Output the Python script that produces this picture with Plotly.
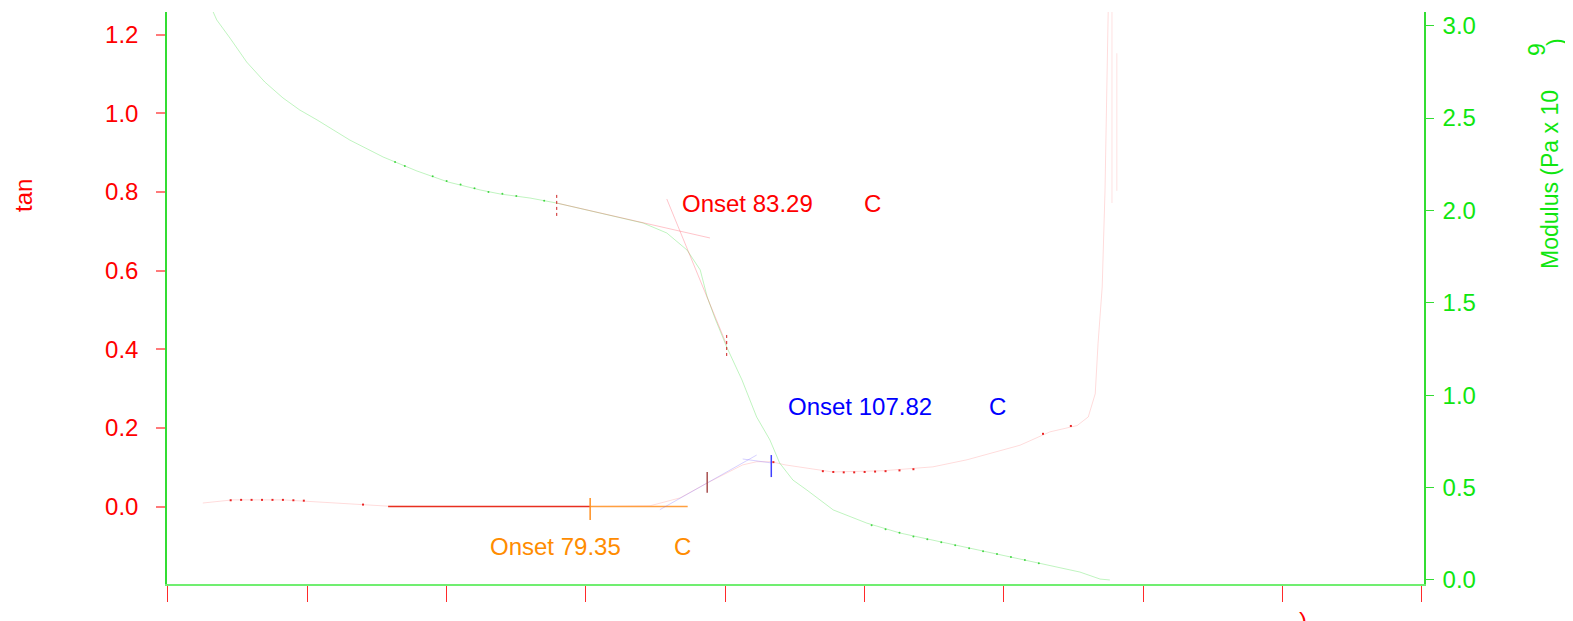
import plotly.graph_objects as go

# ---------------- data ----------------
# modulus (Pa x 10^9) vs temperature
mod_T = [26.3, 27.0, 28.9, 31.3, 33.9, 36.5, 38.9, 41.4, 46.1, 50.9, 55.7, 60.2, 64.8, 67.7,
         72.0, 75.8, 82.0, 88.2, 91.6, 94.5, 96.4, 97.4, 98.5, 100.2, 102.4, 104.5, 106.4,
         107.8, 109.7, 111.7, 115.5, 120.3, 125.1, 129.8, 134.7, 139.4, 146.3, 150.9, 153.8, 155.2]
mod_M = [3.09, 3.031, 2.933, 2.803, 2.695, 2.609, 2.544, 2.490, 2.381, 2.289, 2.214, 2.154,
         2.111, 2.089, 2.067, 2.040, 1.986, 1.932, 1.878, 1.786, 1.678, 1.532, 1.418, 1.261,
         1.082, 0.882, 0.758, 0.633, 0.541, 0.487, 0.379, 0.308, 0.254, 0.216, 0.173, 0.138,
         0.080, 0.043, 0.005, 0.0]
# darker sampled points on the modulus trace
mod_dot_T = [52.6, 54.0, 58.0, 60.0, 62.0, 64.0, 66.0, 68.0, 70.0, 74.0,
             121.0, 123.0, 125.0, 127.0, 129.0, 131.0, 133.0, 135.0, 137.0, 139.0, 141.0, 143.0, 145.0]
mod_dot_M = [2.262, 2.240, 2.185, 2.160, 2.140, 2.120, 2.100, 2.090, 2.078, 2.052,
             0.296, 0.275, 0.255, 0.236, 0.220, 0.204, 0.188, 0.172, 0.156, 0.140, 0.125, 0.108, 0.090]

# tan delta vs temperature
tan_T = [25.0, 29.3, 36.5, 41.4, 48.6, 51.6, 60.0, 70.0, 80.0, 89.2, 93.5, 97.4, 99.9, 102.5,
         104.5, 106.6, 108.6, 110.7, 115.4, 122.6, 129.8, 134.7, 139.4, 142.3, 146.6, 150.5,
         152.1, 153.1, 153.5, 154.1, 154.5, 154.8, 155.0]
tan_D = [0.009, 0.017, 0.017, 0.012, 0.004, 0.001, 0.0, 0.0, 0.0, 0.002, 0.022, 0.060, 0.083,
         0.106, 0.114, 0.114, 0.106, 0.101, 0.088, 0.091, 0.101, 0.119, 0.142, 0.156, 0.190,
         0.206, 0.228, 0.287, 0.414, 0.559, 0.803, 1.065, 1.30]
tan_spike_T = [155.5, 155.5, None, 156.2, 156.2]
tan_spike_D = [1.30, 0.772, None, 1.153, 0.803]
tan_dot_T = [29.0, 30.5, 32.0, 33.5, 35.0, 36.5, 38.0, 39.5, 48.0, 106.9,
             114.0, 115.5, 117.0, 118.5, 120.0, 121.5, 123.0, 125.0, 127.0, 145.6, 149.6]
tan_dot_D = [0.016, 0.017, 0.017, 0.017, 0.017, 0.017, 0.016, 0.015, 0.005, 0.113,
             0.090, 0.088, 0.087, 0.087, 0.088, 0.089, 0.090, 0.092, 0.095, 0.185, 0.205]

# onset 79.35 (tan delta baseline + marker)
on1_base_T = [51.6, 80.6]
on1_ext_T = [80.6, 94.6]
on1_base_D = [0.0, 0.0]
on1_tick_T = [80.6, 80.6]
on1_tick_D = [0.022, -0.034]
# onset 83.29 (modulus tangents)
on2_l1_T = [75.8, 97.8]
on2_l1_M = [2.040, 1.851]
on2_l2_T = [91.6, 100.2]
on2_l2_M = [2.062, 1.272]
on2_tickA_T = [75.8, 75.8]
on2_tickA_M = [2.084, 1.965]
on2_tickB_T = [100.2, 100.2]
on2_tickB_M = [1.326, 1.201]
# onset 107.82 (tan delta tangents)
on3_l1_T = [90.6, 104.5]
on3_l1_D = [-0.008, 0.131]
on3_l2_T = [102.5, 106.6]
on3_l2_D = [0.121, 0.111]
on3_tick_T = [106.6, 106.6]
on3_tick_D = [0.131, 0.075]
brown_tick_T = [97.4, 97.4]
brown_tick_D = [0.088, 0.035]

x_ticks = [20, 40, 60, 80, 100, 120, 140, 160, 180, 200]
tan_ticks = [0.0, 0.2, 0.4, 0.6, 0.8, 1.0, 1.2]
mod_ticks = [0.0, 0.5, 1.0, 1.5, 2.0, 2.5, 3.0]

labels = [  # text, x, y, axis, colour
    ("Onset 83.29", 93.5, 2.035, "y2", "#ff0000"),
    ("C", 119.6, 2.035, "y2", "#ff0000"),
    ("Onset 107.82", 108.7, 0.254, "y", "#0000ff"),
    ("C", 137.6, 0.254, "y", "#0000ff"),
    ("Onset 79.35", 65.9, -0.102, "y", "#ff8c00"),
    ("C", 92.3, -0.102, "y", "#ff8c00"),
]

FONT = "Liberation Sans, Arial, Helvetica, sans-serif"
RED = "#ff0000"
GREEN = "#10e610"

fig = go.Figure()

def seg(x, y, color, width=1, dash="solid", yaxis="y"):
    fig.add_trace(go.Scatter(x=x, y=y, mode="lines", yaxis=yaxis, hoverinfo="skip",
                             line=dict(color=color, width=width, dash=dash), showlegend=False))

# modulus curve
seg(mod_T, mod_M, "rgba(0,210,0,0.25)", 1, yaxis="y2")
fig.add_trace(go.Scatter(x=mod_dot_T, y=mod_dot_M, mode="markers", yaxis="y2", hoverinfo="skip",
                         marker=dict(color="rgba(0,200,0,0.7)", size=2), showlegend=False))
# tan delta curve
seg(tan_T, tan_D, "rgba(255,0,0,0.14)", 1)
seg(tan_spike_T, tan_spike_D, "rgba(255,0,0,0.12)", 1)
fig.add_trace(go.Scatter(x=tan_dot_T, y=tan_dot_D, mode="markers", hoverinfo="skip",
                         marker=dict(color="rgba(230,0,0,0.85)", size=2, symbol="square"),
                         showlegend=False))

# onset 79.35
seg(on1_base_T, on1_base_D, "#e83020", 1.5)
seg(on1_ext_T, on1_base_D, "#ffa040", 1.5)
seg(on1_tick_T, on1_tick_D, "#ff9020", 1.5)
# onset 83.29
seg(on2_l1_T, on2_l1_M, "rgba(255,60,80,0.3)", 1, yaxis="y2")
seg(on2_l2_T, on2_l2_M, "rgba(255,60,80,0.3)", 1, yaxis="y2")
seg(on2_tickA_T, on2_tickA_M, "#cc2020", 1, "dot", yaxis="y2")
seg(on2_tickB_T, on2_tickB_M, "#cc2020", 1, "dot", yaxis="y2")
# onset 107.82
seg(on3_l1_T, on3_l1_D, "rgba(120,100,255,0.3)", 1)
seg(on3_l2_T, on3_l2_D, "rgba(120,100,255,0.3)", 1)
seg(on3_tick_T, on3_tick_D, "#4040ff", 1.5)
seg(brown_tick_T, brown_tick_D, "#a85050", 1.5)

for text, x, y, ax, col in labels:
    fig.add_annotation(x=x, y=y, xref="x", yref=ax, text=text, showarrow=False,
                       xanchor="left", yanchor="middle",
                       font=dict(family=FONT, size=24, color=col))

# axis titles as text (paper coords; plot area is 1257 x 572 px)
PW, PH = 1257.0, 572.0
def px(x):
    return (x - 167) / PW
def py(y):
    return (584 - y) / PH

fig.add_annotation(x=px(23), y=py(196), xref="paper", yref="paper", text="tan", textangle=-90,
                   xanchor="center", yanchor="middle",
                   showarrow=False, font=dict(family=FONT, size=24, color=RED))
fig.add_annotation(x=px(1550), y=py(180), xref="paper", yref="paper", text="Modulus (Pa x 10",
                   xanchor="center", yanchor="middle",
                   textangle=-90, showarrow=False, font=dict(family=FONT, size=23, color=GREEN))
fig.add_annotation(x=px(1537), y=py(50), xref="paper", yref="paper", text="9", textangle=-90,
                   xanchor="center", yanchor="middle",
                   showarrow=False, font=dict(family=FONT, size=23, color=GREEN))
fig.add_annotation(x=px(1556), y=py(42), xref="paper", yref="paper", text=")", textangle=-90,
                   xanchor="center", yanchor="middle",
                   showarrow=False, font=dict(family=FONT, size=23, color=GREEN))
fig.add_annotation(x=px(1303), y=py(605), xref="paper", yref="paper", text=")",
                   xanchor="center", yanchor="top", showarrow=False,
                   font=dict(family=FONT, size=24, color=RED))

# the page adds an 8 px body margin, so the figure is offset by that amount
fig.update_layout(
    width=1565, height=613,
    margin=dict(l=159, r=149, t=4, b=37),
    paper_bgcolor="white", plot_bgcolor="white",
    showlegend=False,
    font=dict(family=FONT),
    xaxis=dict(range=[19.86, 200.29], tickvals=x_ticks, showticklabels=False,
               ticks="outside", ticklen=16, tickwidth=1, tickcolor="#ff2a2a",
               showline=True, linecolor="#70ee70", linewidth=2, showgrid=False, zeroline=False),
    yaxis=dict(range=[-0.197, 1.258], tickvals=tan_ticks, tickformat=".1f",
               ticks="outside", ticklen=9, tickwidth=2, tickcolor="#ff7a7a",
               ticklabelstandoff=13,
               tickfont=dict(family=FONT, size=24, color=RED),
               showline=True, linecolor="#33dd33", linewidth=1.5, showgrid=False, zeroline=False),
    yaxis2=dict(range=[-0.0217, 3.074], tickvals=mod_ticks, tickformat=".1f",
                overlaying="y", side="right", anchor="x",
                ticks="outside", ticklen=8, tickwidth=1, tickcolor="#33dd33",
                ticklabelstandoff=4,
                tickfont=dict(family=FONT, size=24, color=GREEN),
                showline=True, linecolor="#33dd33", linewidth=1.5, showgrid=False, zeroline=False),
)

fig.write_html("out.html")
